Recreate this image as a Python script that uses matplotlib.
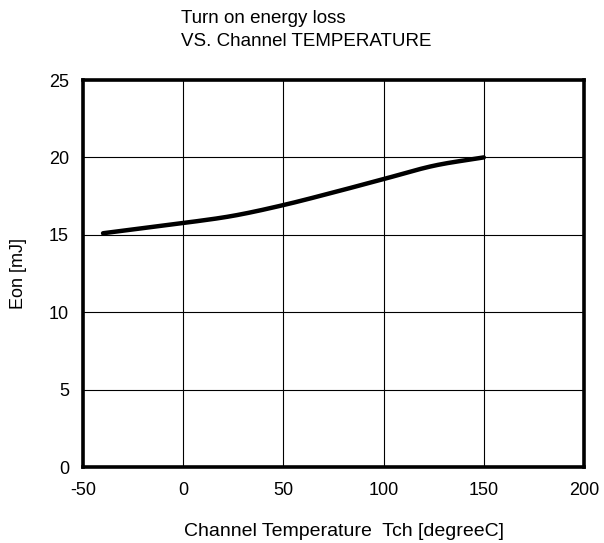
import matplotlib
matplotlib.use("Agg")
import matplotlib.pyplot as plt
import numpy as np

temp = [-40, 0, 25, 50, 75, 100, 125, 150]
eon = [15.1, 15.76, 16.23, 16.92, 17.74, 18.6, 19.46, 20.0]
xticks = [-50, 0, 50, 100, 150, 200]
yticks = [0, 5, 10, 15, 20, 25]

plt.rcParams['font.family'] = ['Liberation Sans', 'DejaVu Sans']
plt.rcParams['axes.unicode_minus'] = False

fig = plt.figure(figsize=(6.04, 5.43), dpi=100)
ax = fig.add_axes([83/604, 1-467/543, (584-83)/604, (467-80)/543])

def interp_smooth(x, xp, yp):
    xp = np.asarray(xp, float); yp = np.asarray(yp, float)
    n = len(xp)
    m = np.zeros(n)
    d = np.diff(yp) / np.diff(xp)
    m[0] = d[0]; m[-1] = d[-1]
    for i in range(1, n-1):
        m[i] = (d[i-1] + d[i]) / 2
    out = np.empty_like(x)
    for j, xv in enumerate(x):
        i = min(max(np.searchsorted(xp, xv) - 1, 0), n-2)
        h = xp[i+1] - xp[i]
        t = (xv - xp[i]) / h
        h00 = 2*t**3 - 3*t**2 + 1
        h10 = t**3 - 2*t**2 + t
        h01 = -2*t**3 + 3*t**2
        h11 = t**3 - t**2
        out[j] = h00*yp[i] + h10*h*m[i] + h01*yp[i+1] + h11*h*m[i+1]
    return out

xs = np.linspace(temp[0], temp[-1], 200)
ys = interp_smooth(xs, temp, eon)
ax.plot(xs, ys, color='black', lw=3.2, solid_capstyle='round', zorder=3)

ax.set_xlim(-50, 200)
ax.set_ylim(0, 25)
ax.set_xticks(xticks)
ax.set_yticks(yticks)
ax.grid(True, color='black', lw=0.8)
ax.tick_params(axis='x', length=0, labelsize=13, pad=11)
ax.tick_params(axis='y', length=0, labelsize=13, pad=10)
for s in ax.spines.values():
    s.set_linewidth(2.6)
    s.set_color('black')

ax.set_xlabel('Channel Temperature  Tch [degreeC]', fontsize=14)
ax.xaxis.set_label_coords((344-83)/501, -(531-467)/387)
ax.xaxis.label.set_va('center')
ax.set_ylabel('Eon [mJ]', fontsize=13, labelpad=16)
fig.text(181/604, 1-30/543, 'Turn on energy loss\nVS. Channel TEMPERATURE',
         fontsize=13.5, ha='left', va='center', linespacing=1.42)

fig.savefig('out.png', dpi=100)
